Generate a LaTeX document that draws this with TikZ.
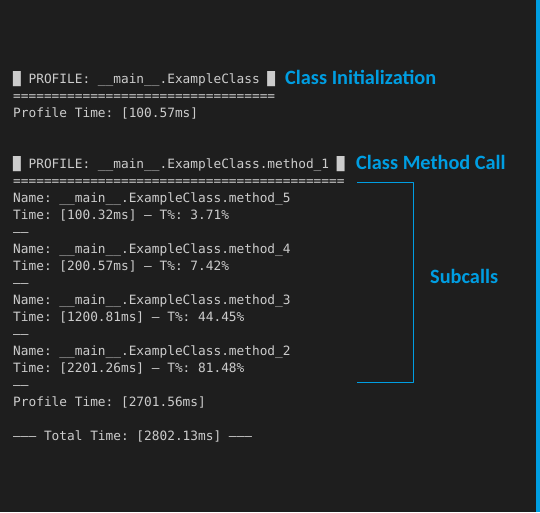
\documentclass[tikz,border=0pt]{standalone}
\usepackage{fontspec}
\usepackage{tikz}
\newfontfamily\termfont{DejaVu Sans Mono}
\newfontfamily\notefont{Carlito}
\definecolor{termbg}{HTML}{1E1E1E}
\definecolor{termfg}{HTML}{CCCCCC}
\definecolor{noteblue}{HTML}{009EE2}

\begin{document}
\begin{tikzpicture}[line cap=round,line join=round,x=1pt,y=1pt,
    termline/.style={anchor=base west,inner sep=0pt,text=termfg,font=\termfont\frenchspacing\fontsize{12.8}{17}\selectfont},
    note/.style={anchor=base west,inner sep=0pt,text=noteblue,font=\notefont\bfseries\fontsize{20.3}{22}\selectfont},
    bracket/.style={draw=noteblue,line width=1pt,line cap=butt}]
    % \clip(0,0) rectangle (540,-512);
    \fill [termbg] (0,0) rectangle (540,-512);
    \useasboundingbox (0,0) rectangle (540,-512);
    \fill [noteblue] (536,0) rectangle (540,-512);
    % class initialization
    \node [termline] (initHead) at (13,-83) {█ PROFILE: \_\_main\_\_.ExampleClass █};
    \node [termline] (initRule) at (13,-100) {==================================};
    \node [termline] (initTime) at (13,-117) {Profile Time: [100.57ms]};
    % method call
    \node [termline] (callHead) at (13,-168) {█ PROFILE: \_\_main\_\_.ExampleClass.method\_1 █};
    \node [termline] (callRule) at (13,-185) {===========================================};
    \node [termline] (nameFive) at (13,-202) {Name: \_\_main\_\_.ExampleClass.method\_5};
    \node [termline] (timeFive) at (13,-219) {Time: [100.32ms] — T\%: 3.71\%};
    \node [termline] (sepFive) at (13,-236) {——};
    \node [termline] (nameFour) at (13,-253) {Name: \_\_main\_\_.ExampleClass.method\_4};
    \node [termline] (timeFour) at (13,-270) {Time: [200.57ms] — T\%: 7.42\%};
    \node [termline] (sepFour) at (13,-287) {——};
    \node [termline] (nameThree) at (13,-304) {Name: \_\_main\_\_.ExampleClass.method\_3};
    \node [termline] (timeThree) at (13,-321) {Time: [1200.81ms] — T\%: 44.45\%};
    \node [termline] (sepThree) at (13,-338) {——};
    \node [termline] (nameTwo) at (13,-355) {Name: \_\_main\_\_.ExampleClass.method\_2};
    \node [termline] (timeTwo) at (13,-372) {Time: [2201.26ms] — T\%: 81.48\%};
    \node [termline] (sepTwo) at (13,-389) {——};
    \node [termline] (callTime) at (13,-406) {Profile Time: [2701.56ms]};
    \node [termline] (totalTime) at (13,-440) {——— Total Time: [2802.13ms] ———};
    % notes
    \node [note] (initNote) at (285,-84) {Class Initialization};
    \node [note] (callNote) at (356,-169) {Class Method Call};
    \node [note] (subNote) at (430,-283) {Subcalls};
    \coordinate (subTop) at (357,-182.5);
    \coordinate (subBot) at (357,-382.5);
    \draw [bracket] (subTop) -- ++(56,0) |- (subBot);
\end{tikzpicture}
\end{document}
